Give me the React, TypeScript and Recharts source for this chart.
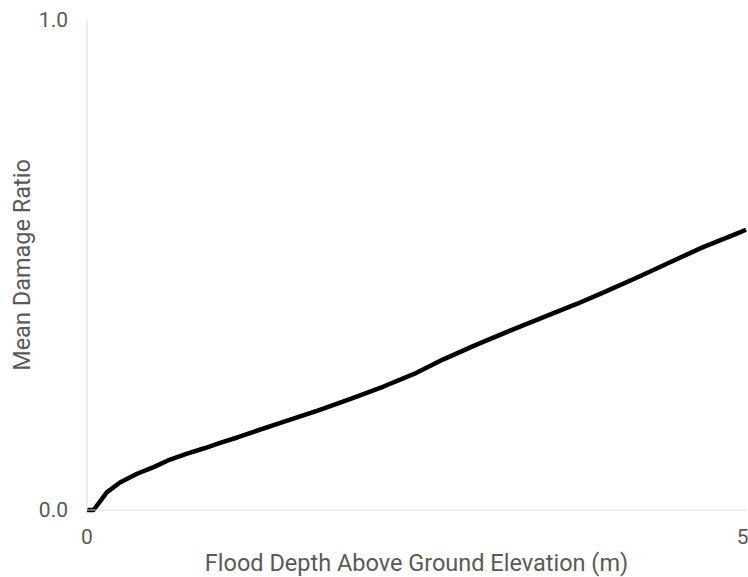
import React from 'react';
import { LineChart, Line, XAxis, YAxis, Label } from 'recharts';

// flood depth (m) and mean damage ratio
const depths = [
  0, 0.05, 0.15, 0.25, 0.38, 0.51, 0.63, 0.76, 0.89, 1.01, 1.14, 1.27, 1.49, 1.75, 2.0,
  2.25, 2.5, 2.7, 2.96, 3.21, 3.46, 3.72, 3.92, 4.17, 4.42, 4.67, 4.93, 5.0,
];
const damageRatios = [
  0, 0, 0.036, 0.056, 0.074, 0.088, 0.103, 0.115, 0.126, 0.137, 0.148, 0.16, 0.18, 0.203, 0.227,
  0.252, 0.28, 0.307, 0.338, 0.366, 0.393, 0.421, 0.444, 0.474, 0.505, 0.536, 0.564, 0.572,
];
const xTicks = [0, 5];
const yTicks = [0, 1];

const data = depths.map((d, i) => ({ depth: d, mdr: damageRatios[i] }));

const textColor = '#595959';
const axisColor = '#d9d9d9';

const App: React.FC = () => {
  return (
    <div style={{ position: 'absolute', left: 0, top: 0, fontFamily: 'Roboto, sans-serif' }}>
      <LineChart
        width={748}
        height={577}
        data={data}
        margin={{ top: 20, right: 2, bottom: 0, left: 0 }}
      >
        <XAxis
          dataKey="depth"
          type="number"
          domain={[0, 5]}
          ticks={xTicks}
          tickLine={false}
          tickMargin={13}
          height={67}
          stroke={axisColor}
          tick={{ fill: textColor, fontSize: 21 }}
        >
          <Label
            value="Flood Depth Above Ground Elevation (m)"
            position="insideBottom"
            offset={6}
            style={{ fill: textColor, fontSize: 23.5 }}
          />
        </XAxis>
        <YAxis
          type="number"
          domain={[0, 1]}
          ticks={yTicks}
          tickFormatter={(v: number) => v.toFixed(1)}
          tickLine={false}
          tickMargin={13}
          width={87}
          stroke={axisColor}
          tick={{ fill: textColor, fontSize: 21 }}
        >
          <Label
            value="Mean Damage Ratio"
            angle={-90}
            position="insideLeft"
            offset={22}
            style={{ fill: textColor, fontSize: 23.5, textAnchor: 'middle' }}
          />
        </YAxis>
        <Line
          dataKey="mdr"
          type="linear"
          stroke="#000000"
          strokeWidth={4.5}
          strokeLinejoin="round"
          dot={false}
          isAnimationActive={false}
        />
      </LineChart>
    </div>
  );
};

export default App;
